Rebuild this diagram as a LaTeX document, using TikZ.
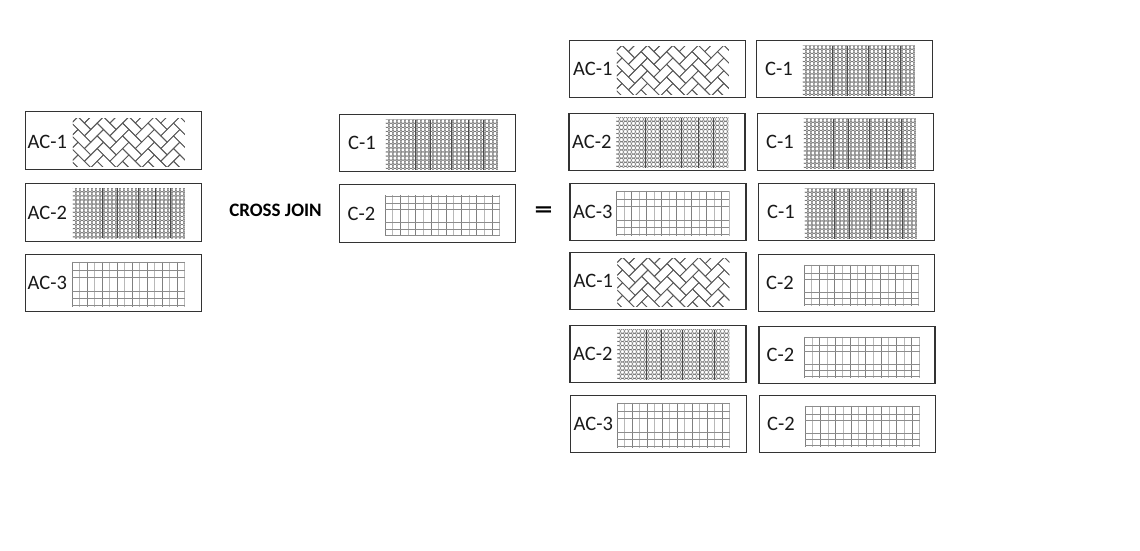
\documentclass[tikz,border=0pt]{standalone}
\usepackage{fontspec}
\setmainfont{Carlito}
\begin{document}
\begin{tikzpicture}[x=1pt,y=-1pt,
  box/.style={draw=black!80, line width=1.1pt, minimum width=176pt, minimum height=57.5pt, inner sep=0pt},
  lab/.style={anchor=west, inner sep=0pt, font=\fontsize{20.5}{24}\selectfont, text=black!90},
  pics/herring/.style={code={
    \begin{scope}
      \clip (0,0) rectangle (112,48);
      \begin{scope}[shift={(56,24)}, rotate=-45, scale=9]
        \foreach \k in {-4,...,4} {
          \foreach \t in {-8,...,8} {
            \draw[black!65, line width=0.8pt] ({\t+2*\k},{\t-2*\k}) rectangle ++(2,1);
            \draw[black!65, line width=0.8pt] ({\t+2*\k},{\t-2*\k+1}) rectangle ++(1,2);
          }
        }
      \end{scope}
    \end{scope}
  }},
  pics/dots/.style={code={
    \begin{scope}
      \clip (0,0) rectangle (112,50);
      \foreach \i in {0,...,28} {
        \foreach \j in {0,...,12} {
          \draw[black!55, line width=0.55pt] ({\i*4+1},{\j*4.1+1.5}) ellipse [x radius=1.9, y radius=2.3];
        }
      }
      \foreach \xx in {29,44,65,82,97} {
        \draw[black!70, line width=0.9pt] (\xx,0) -- (\xx,50);
      }
    \end{scope}
  }},
  pics/gridpat/.style={code={
    \foreach \i in {0,...,15} {
      \pgfmathsetmacro{\gc}{mod(\i,2)==0 ? 50 : 28}
      \draw[black!\gc, line width=0.7pt] ({\i*7.5},0) -- ({\i*7.5},45);
    }
    \foreach \yy in {1,9,16,30,37,44} {
      \draw[black!45, line width=0.7pt] (0,\yy) -- (113,\yy);
    }
  }}
]
\useasboundingbox (0,0) rectangle (1140,551);

% left column
\node[box] (L1) at (113.5,140.5) {};
\node[box] (L2) at (113.5,212.5) {};
\node[box] (L3) at (113.5,283) {};
% middle column
\node[box] (M1) at (427.5,143) {};
\node[box] (M2) at (427.5,213.5) {};
% result, first column
\node[box] (Ra1) at (657.5,69) {};
\node[box] (Ra2) at (657,142) {};
\node[box] (Ra3) at (658,212) {};
\node[box] (Ra4) at (658,281) {};
\node[box] (Ra5) at (658,354) {};
\node[box] (Ra6) at (658.5,424) {};
% result, second column
\node[box] (Rb1) at (844.5,69) {};
\node[box] (Rb2) at (845.5,142) {};
\node[box] (Rb3) at (846.5,212) {};
\node[box] (Rb4) at (846.5,283) {};
\node[box] (Rb5) at (847,355) {};
\node[box] (Rb6) at (847.5,424) {};

% patterns
\foreach \b in {L1,Ra1,Ra4} { \pic at ([shift={(48,7)}]\b.north west) {herring}; }
\foreach \b in {L2,Ra2,Ra5} { \pic at ([shift={(48,5)}]\b.north west) {dots}; }
\foreach \b in {M1,Rb1,Rb2,Rb3} { \pic at ([shift={(47,6)}]\b.north west) {dots}; }
\foreach \b in {L3,Ra3,Ra6} { \pic at ([shift={(47,8)}]\b.north west) {gridpat}; }
\foreach \b in {M2,Rb4,Rb5,Rb6} { \pic[xscale=1.02,yscale=0.91] at ([shift={(46,11)}]\b.north west) {gridpat}; }

% labels
\node[lab] (tL1) at ([xshift=2.5,yshift=-1.5]L1.west) {AC-1};
\node[lab] (tL2) at ([xshift=2.5]L2.west) {AC-2};
\node[lab] (tL3) at ([xshift=2.5]L3.west) {AC-3};
\node[lab] (tM1) at ([xshift=9]M1.west) {C-1};
\node[lab] (tM2) at ([xshift=8.5]M2.west) {C-2};
\node[lab] (tRa1) at ([xshift=4]Ra1.west) {AC-1};
\node[lab] (tRa2) at ([xshift=3.5]Ra2.west) {AC-2};
\node[lab] (tRa3) at ([xshift=3.5]Ra3.west) {AC-3};
\node[lab] (tRa4) at ([xshift=4]Ra4.west) {AC-1};
\node[lab] (tRa5) at ([xshift=3.5]Ra5.west) {AC-2};
\node[lab] (tRa6) at ([xshift=3.5]Ra6.west) {AC-3};
\node[lab] (tRb1) at ([xshift=9]Rb1.west) {C-1};
\node[lab] (tRb2) at ([xshift=9]Rb2.west) {C-1};
\node[lab] (tRb3) at ([xshift=9]Rb3.west) {C-1};
\node[lab] (tRb4) at ([xshift=8]Rb4.west) {C-2};
\node[lab] (tRb5) at ([xshift=8]Rb5.west) {C-2};
\node[lab] (tRb6) at ([xshift=8]Rb6.west) {C-2};

% operators
\node[inner sep=0pt, font=\fontsize{19}{22}\selectfont\bfseries] (cj) at (275.5,210) {CROSS JOIN};
\node[inner sep=0pt, font=\fontsize{24}{28}\selectfont\bfseries] (eq) at (543.5,212) {\scalebox{1.5}[1]{=}};
\end{tikzpicture}
\end{document}
